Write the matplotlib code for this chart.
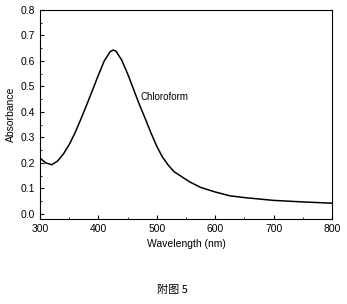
import matplotlib
matplotlib.use('Agg')
import matplotlib.pyplot as plt
from matplotlib.ticker import MultipleLocator

plt.rcParams['font.family'] = ['Liberation Sans', 'DejaVu Sans']

wavelength = [300, 310, 320, 330, 340, 350, 360, 370, 380, 390, 400, 410, 420, 425,
              430, 440, 450, 460, 470, 480, 490, 500, 510, 520, 530, 540, 556, 575,
              600, 625, 650, 700, 750, 800]
absorbance = [0.219, 0.200, 0.193, 0.207, 0.235, 0.272, 0.318, 0.372, 0.428, 0.486,
              0.545, 0.600, 0.636, 0.643, 0.639, 0.603, 0.550, 0.490, 0.430, 0.375,
              0.318, 0.265, 0.222, 0.190, 0.165, 0.150, 0.126, 0.104, 0.086, 0.071,
              0.064, 0.053, 0.047, 0.042]

fig = plt.figure(figsize=(3.47, 3.04), dpi=100)
ax = fig.add_axes([40/347, 1-219/304, 292/347, 209/304])
ax.plot(wavelength, absorbance, color='black', linewidth=1.1)
ax.set_xlim(300, 800)
ax.set_ylim(-0.02, 0.8)
ax.xaxis.set_major_locator(MultipleLocator(100))
ax.xaxis.set_minor_locator(MultipleLocator(50))
ax.yaxis.set_major_locator(MultipleLocator(0.1))
ax.yaxis.set_minor_locator(MultipleLocator(0.05))
ax.yaxis.set_major_formatter(plt.FormatStrFormatter('%.1f'))
ax.tick_params(which='both', direction='in', labelsize=7.5, top=False, right=False)
ax.tick_params(which='major', length=3)
ax.tick_params(which='minor', length=1.5)
ax.set_xlabel('Wavelength (nm)', fontsize=7.5, labelpad=4)
ax.set_ylabel('Absorbance', fontsize=7.5, labelpad=3)
ax.text(472, 0.445, 'Chloroform', fontsize=7)

fig.text(172/347, 1-290/304, '附图 5', ha='center', va='center', fontsize=8,
         family=['Noto Sans CJK SC', 'DejaVu Sans'])

plt.savefig('out.png', dpi=100)
